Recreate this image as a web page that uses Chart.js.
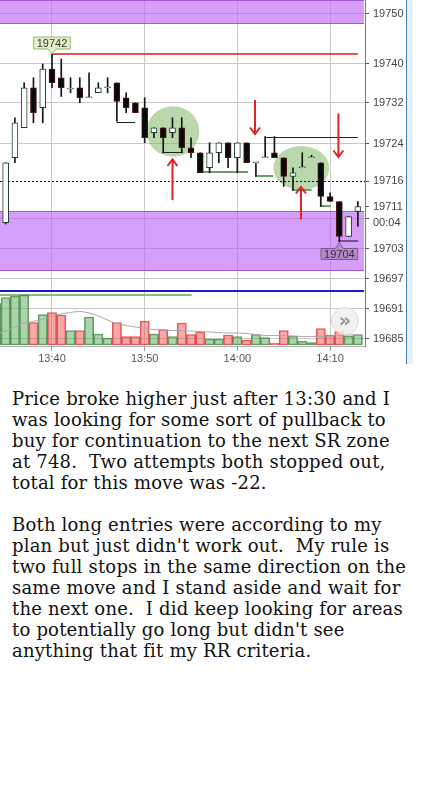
<!DOCTYPE html>
<html><head><meta charset="utf-8">
<script src="https://cdn.jsdelivr.net/npm/chart.js@4.4.0/dist/chart.umd.min.js"></script>
<style>
body{margin:0;background:#fff;}
#wrap{position:relative;width:435px;height:365px;}
#c{position:absolute;left:0;top:0;}
#edge1{position:absolute;left:406px;top:0;width:1px;height:364px;background:#3b7fb6;}
#edge2{position:absolute;left:407px;top:0;width:6px;height:364px;background:#e9eff3;}
#btn{position:absolute;left:331px;top:307px;width:26px;height:26px;border-radius:50%;background:rgba(238,238,238,0.85);border:1px solid #dcdcdc;color:#9a9a9a;font:bold 19px "DejaVu Sans";line-height:24px;text-align:center;}
#txt{position:absolute;left:12px;top:388px;font-family:"DejaVu Serif";font-size:18px;letter-spacing:0.2px;line-height:21px;white-space:pre;color:#111;}
</style></head>
<body>
<div id="wrap">
<canvas id="c" width="406" height="365"></canvas>
<div id="edge1"></div><div id="edge2"></div>
<div id="btn">»</div>
</div>
<div id="txt">Price broke higher just after 13:30 and I
was looking for some sort of pullback to
buy for continuation to the next SR zone
at 748.  Two attempts both stopped out,
total for this move was -22.

Both long entries were according to my
plan but just didn't work out.  My rule is
two full stops in the same direction on the
same move and I stand aside and wait for
the next one.  I did keep looking for areas
to potentially go long but didn't see
anything that fit my RR criteria.</div>
<script>
// minutes after 13:00 (1-minute bars)
const minutes = [34,35,36,37,38,39,40,41,42,43,44,45,46,47,48,49,50,51,52,53,54,55,56,57,58,59,60,61,62,63,64,65,66,67,68,69,70,71,72,73];
const opens  = [19701.5,19708.25,19721.25,19727.25,19735.25,19731.25,19739.0,19737.25,19735.0,19735.25,19733.25,19734.25,19735.25,19736.25,19733.25,19732.25,19731.25,19726.25,19727.25,19726.25,19727.25,19723.25,19722.25,19719.25,19722.25,19724.25,19721.25,19724.25,19720.25,19721.25,19722.25,19721.25,19717.5,19719.25,19721.25,19720.25,19713.5,19712.5,19705.5,19710.5];
const highs  = [19710.0,19720.25,19729.25,19736.25,19737.25,19740.0,19742.0,19741.0,19737.25,19737.25,19738.25,19736.25,19737.25,19736.25,19734.25,19732.25,19733.25,19727.25,19727.25,19729.25,19729.25,19725.25,19722.25,19724.25,19724.25,19724.25,19724.25,19724.25,19720.25,19725.5,19725.5,19721.25,19719.25,19722.25,19721.75,19720.25,19714.25,19712.5,19709.5,19712.5];
const lows   = [19700.5,19708.0,19720.25,19727.25,19728.25,19728.25,19735.25,19733.5,19734.25,19732.25,19733.25,19734.25,19734.25,19728.5,19730.25,19730.25,19724.25,19725.25,19722.25,19725.25,19722.25,19721.25,19718.25,19718.25,19720.25,19719.25,19718.25,19720.25,19717.5,19721.25,19721.25,19715.5,19714.75,19719.25,19721.25,19711.5,19712.5,19704.5,19705.5,19707.5];
const closes = [19709.5,19720.25,19728.25,19735.25,19730.25,19739.0,19736.25,19735.25,19735.0,19733.25,19733.25,19735.25,19735.25,19732.5,19731.25,19730.25,19725.25,19727.25,19725.25,19727.25,19723.25,19722.25,19718.25,19722.25,19724.25,19721.25,19724.25,19720.25,19720.25,19721.25,19721.25,19717.5,19718.25,19719.25,19721.25,19713.5,19712.5,19705.5,19709.5,19711.5];
const volumes   = [830,950,980,1000,450,610,650,600,290,290,560,220,140,450,170,170,480,220,310,170,440,210,260,120,120,200,170,100,210,150,40,290,180,80,50,330,200,270,180,210];
const volumeAvg = [220,280,360,440,470,520,580,620,650,670,640,580,500,430,390,360,330,310,300,290,290,280,270,260,250,240,240,230,210,190,190,190,180,170,170,170,180,190,200,210];

const xTickValues = [40,50,60,70];
const xTickLabels = ['13:40','13:50','14:00','14:10'];
const yTickValues = [19750,19740,19732.3,19724,19716.6,19711.5,19709,19708.2,19703,19697,19691,19685];
const yTickLabels = ['19750','19740','19732','19724','19716','19711','','00:04','19703','19697','19691','19685'];
const yNoGrid = ['19716','19711','00:04'];

// drawings (price / minute values)
const zones = [[19748,19760],[19698.6,19710.6]];
const resistanceLine = [19742,39.9,73.0];
const lastPriceLevel = 19716.6;
const blueLevel = 19694.6;
const greenLevel = [19693.8,34.0,55.07];
const stopLinesBlack = [[19728.4,46.98,48.96],[19722.4,51.87,54.13],[19725.4,62.9,73.0]];
const stopLinesGreen = [[19718.4,56.3,61.14],[19717.6,61.9,63.87],[19714.7,65.86,68.0],[19711.5,68.9,70.06]];
const stopLinesPurple = [[19704.5,70.88,73.04]];
const circles = [[53.05,19726.5,2.84,5.06],[66.9,19719.2,3.02,4.4]];
const upArrows = [[53.0,19712.8,19720.8],[66.86,19708.9,19715.3]];
const downArrows = [[61.9,19732.8,19726.1],[70.9,19730.1,19721.5]];
const highLabelIdx = 6;   // 13:40 high
const lowLabelIdx = 37;   // 14:11 low

const bull = minutes.map((m,i)=>closes[i]>=opens[i]);

const annot = {
  id:'annot',
  beforeDatasetsDraw(chart){
    const {ctx, chartArea:a, scales:{x,y}} = chart;
    ctx.save();
    ctx.beginPath(); ctx.rect(a.left,a.top,a.right-a.left,a.bottom-a.top); ctx.clip();
    zones.forEach(([lo,hi])=>{
      const t = y.getPixelForValue(Math.min(hi,y.max)), b = y.getPixelForValue(lo);
      ctx.fillStyle='rgba(185,95,245,0.6)';
      ctx.fillRect(a.left,t,a.right-1-a.left,b-t);
      ctx.strokeStyle='rgba(150,70,215,0.8)'; ctx.lineWidth=1;
      ctx.beginPath();
      ctx.moveTo(a.left,Math.round(t)+0.5); ctx.lineTo(a.right-1,Math.round(t)+0.5);
      ctx.moveTo(a.left,Math.round(b)-0.5); ctx.lineTo(a.right-1,Math.round(b)-0.5);
      ctx.stroke();
    });
    circles.forEach(([cm,cp,rm,rp])=>{
      const cx=x.getPixelForValue(cm), cy=y.getPixelForValue(cp);
      const rx=Math.abs(x.getPixelForValue(cm+rm)-cx), ry=Math.abs(y.getPixelForValue(cp+rp)-cy);
      ctx.fillStyle='rgba(125,180,95,0.52)';
      ctx.beginPath(); ctx.ellipse(cx,cy,rx,ry,0,0,Math.PI*2); ctx.fill();
    });
    const hline=(p,m1,m2,color,w,dash)=>{
      const yy=Math.round(y.getPixelForValue(p))+(w%2?0.5:0);
      ctx.strokeStyle=color; ctx.lineWidth=w; ctx.setLineDash(dash||[]);
      ctx.beginPath(); ctx.moveTo(x.getPixelForValue(m1),yy); ctx.lineTo(x.getPixelForValue(m2),yy); ctx.stroke();
      ctx.setLineDash([]);
    };
    hline(lastPriceLevel,x.min,x.max,'#111',1,[2,2]);
    hline(blueLevel,x.min,x.max-0.1,'#1a1ad0',2);
    hline(greenLevel[0],greenLevel[1],greenLevel[2],'rgba(110,170,100,0.8)',2);
    hline(resistanceLine[0],resistanceLine[1],resistanceLine[2],'rgba(230,50,50,0.85)',2);
    stopLinesBlack.forEach(s=>hline(s[0],s[1],s[2],'#222',1));
    stopLinesGreen.forEach(s=>hline(s[0],s[1],s[2],'rgba(90,150,90,0.9)',2));
    stopLinesPurple.forEach(s=>hline(s[0],s[1],s[2],'rgba(110,70,130,0.9)',2));
    ctx.restore();
  },
  afterDatasetsDraw(chart){
    const {ctx, scales:{x,y}} = chart;
    ctx.save();
    ctx.strokeStyle='#e32222'; ctx.lineWidth=2; ctx.lineCap='butt';
    const arrow=(m,p1,p2)=>{
      const xx=x.getPixelForValue(m), y1=y.getPixelForValue(p1), y2=y.getPixelForValue(p2);
      const d = y2<y1 ? 1 : -1;
      ctx.beginPath(); ctx.moveTo(xx,y1); ctx.lineTo(xx,y2);
      ctx.moveTo(xx-5,y2+6*d); ctx.lineTo(xx,y2+1*d*-0.5); ctx.lineTo(xx+5,y2+6*d);
      ctx.stroke();
    };
    upArrows.forEach(a=>arrow(a[0],a[1],a[2]));
    downArrows.forEach(a=>arrow(a[0],a[1],a[2]));
    ctx.font='11px "Liberation Sans"'; ctx.textAlign='center'; ctx.textBaseline='middle';
    // high label
    {
      const xx=x.getPixelForValue(minutes[highLabelIdx]), yy=y.getPixelForValue(highs[highLabelIdx]);
      const t=String(Math.floor(highs[highLabelIdx])); const w=ctx.measureText(t).width+6;
      const bt=yy-17, bb=yy-5;
      ctx.fillStyle='#e2f2c6'; ctx.strokeStyle='#93b970'; ctx.lineWidth=1;
      ctx.beginPath();
      ctx.moveTo(xx-w/2,bt); ctx.lineTo(xx+w/2,bt); ctx.lineTo(xx+w/2,bb); ctx.lineTo(xx+4,bb);
      ctx.lineTo(xx,yy); ctx.lineTo(xx-4,bb); ctx.lineTo(xx-w/2,bb); ctx.closePath();
      ctx.fill(); ctx.stroke();
      ctx.fillStyle='#333'; ctx.fillText(t,xx,(bt+bb)/2+0.5);
    }
    // low label
    {
      const xx=x.getPixelForValue(minutes[lowLabelIdx]), yy=y.getPixelForValue(lows[lowLabelIdx]);
      const t=String(Math.floor(lows[lowLabelIdx])); const w=ctx.measureText(t).width+6;
      const bt=yy+7, bb=yy+18;
      ctx.fillStyle='rgba(175,135,195,0.9)'; ctx.strokeStyle='#7a5a8a'; ctx.lineWidth=1;
      ctx.beginPath();
      ctx.moveTo(xx-w/2,bt); ctx.lineTo(xx-4,bt); ctx.lineTo(xx,yy+1); ctx.lineTo(xx+4,bt);
      ctx.lineTo(xx+w/2,bt); ctx.lineTo(xx+w/2,bb); ctx.lineTo(xx-w/2,bb); ctx.closePath();
      ctx.fill(); ctx.stroke();
      ctx.fillStyle='#3a2848'; ctx.fillText(t,xx,(bt+bb)/2+0.5);
    }
    ctx.restore();
  }
};

const tickFont = {family:'Liberation Sans', size:11};
new Chart(document.getElementById('c'), {
  type:'bar',
  data:{
    datasets:[
      {
        label:'bodies', type:'bar', yAxisID:'y', order:0, grouped:false,
        data:minutes.map((m,i)=>({x:m,y:[opens[i],closes[i]]})),
        backgroundColor:bull.map(b=>b?'#ffffff':'#0a0a0a'),
        borderColor:bull.map(b=>b?'#1e3e2e':'#4a1616'),
        borderWidth:1, borderSkipped:false, barThickness:6, minBarLength:1
      },
      {
        label:'wicks', type:'bar', yAxisID:'y', order:1, grouped:false,
        data:minutes.map((m,i)=>({x:m,y:[lows[i],highs[i]]})),
        backgroundColor:'#151515', borderWidth:0, barThickness:1
      },
      {
        label:'volAvg', type:'line', yAxisID:'yv', order:2,
        data:minutes.map((m,i)=>({x:m,y:volumeAvg[i]})),
        borderColor:'#a8a8a8', borderWidth:1, pointRadius:0, tension:0.35, fill:false
      },
      {
        label:'volume', type:'bar', yAxisID:'yv', order:3, grouped:false,
        data:minutes.map((m,i)=>({x:m,y:volumes[i]})),
        backgroundColor:bull.map(b=>b?'rgba(90,170,90,0.5)':'rgba(245,80,80,0.5)'),
        borderColor:bull.map(b=>b?'rgba(50,120,50,0.75)':'rgba(215,50,50,0.8)'),
        borderWidth:1, borderSkipped:false, barPercentage:1, categoryPercentage:1
      }
    ]
  },
  options:{
    responsive:false, animation:false, devicePixelRatio:1,
    layout:{padding:0},
    plugins:{legend:{display:false}, tooltip:{enabled:false}},
    scales:{
      x:{
        type:'linear', position:'bottom', min:34.39, max:73.77, offset:false,
        grid:{color:'#c9c9c9', offset:false, tickLength:5, tickColor:'#999'},
        border:{display:true, color:'#b0b0b0'},
        afterBuildTicks:s=>{ s.ticks = xTickValues.map(v=>({value:v})); },
        ticks:{font:tickFont, color:'#555', padding:1, autoSkip:false, maxRotation:0,
          callback:(v,i)=>xTickLabels[i]},
        afterFit:s=>{ s.height=19; s.paddingLeft=0; s.paddingRight=0; }
      },
      y:{
        type:'linear', position:'right', min:19683.6, max:19752.8, beginAtZero:false,
        grid:{
          color:c=>yNoGrid.includes(yTickLabels[c.index])?'rgba(0,0,0,0)':'#c9c9c9',
          tickColor:c=>yTickLabels[c.index]==='00:04'?'rgba(0,0,0,0)':'#555',
          tickLength:4
        },
        border:{display:true, color:'#777'},
        afterBuildTicks:s=>{ s.ticks = yTickValues.map(v=>({value:v})); },
        ticks:{font:tickFont, color:'#444', padding:4, autoSkip:false,
          callback:(v,i)=>yTickLabels[i],
          showLabelBackdrop:c=>yTickLabels[c.index]==='00:04',
          backdropColor:'#ffffff', backdropPadding:{top:2,bottom:2,left:2,right:4}},
        afterFit:s=>{ s.width=41; s.paddingTop=0; s.paddingBottom=0; }
      },
      yv:{
        type:'linear', display:false, min:-20, max:6900, beginAtZero:false
      }
    }
  },
  plugins:[annot]
});
</script>
</body></html>
